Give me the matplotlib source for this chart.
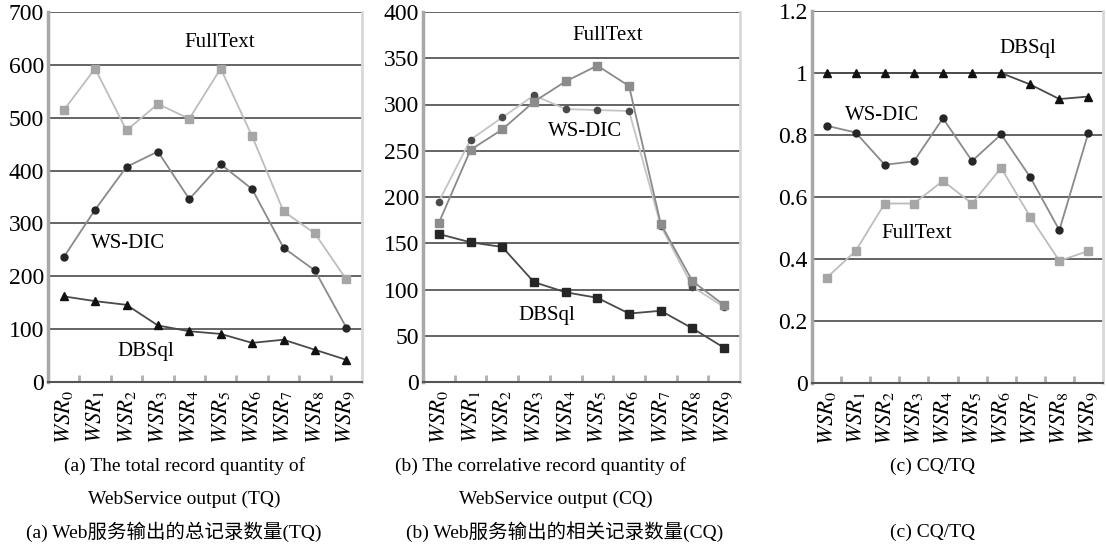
import matplotlib
matplotlib.use("Agg")
import matplotlib.pyplot as plt
import numpy as np

plt.rcParams['mathtext.fontset'] = 'stix'
plt.rcParams['font.family'] = ['Liberation Serif', 'Noto Sans CJK SC']

categories = [r'$WSR_{%d}$' % i for i in range(10)]

# Panel (a) TQ
tq_fulltext = [514, 593, 476, 526, 498, 593, 465, 323, 281, 194]
tq_wsdic = [236, 326, 407, 436, 346, 412, 365, 254, 211, 103]
tq_dbsql = [162, 153, 146, 107, 96, 91, 74, 80, 61, 42]

# Panel (b) CQ
cq_fulltext = [172, 251, 273, 303, 325, 342, 320, 171, 109, 83]
cq_wsdic = [195, 262, 286, 310, 295, 294, 293, 169, 103, 81]
cq_dbsql = [160, 151, 146, 108, 97, 91, 74, 77, 58, 37]

# Panel (c) CQ/TQ
r_dbsql = [1.0, 1.0, 1.0, 1.0, 1.0, 1.0, 1.0, 0.963, 0.916, 0.924]
r_wsdic = [0.83, 0.808, 0.704, 0.715, 0.854, 0.716, 0.802, 0.664, 0.493, 0.808]
r_fulltext = [0.339, 0.426, 0.579, 0.579, 0.652, 0.579, 0.694, 0.536, 0.394, 0.426]

captions = [
    ["(a) The total record quantity of", "WebService output (TQ)", "(a) Web服务输出的总记录数量(TQ)"],
    ["(b) The correlative record quantity of", "WebService output (CQ)", "(b) Web服务输出的相关记录数量(CQ)"],
    ["(c) CQ/TQ", "", "(c) CQ/TQ"],
]

fig = plt.figure(figsize=(11.06, 5.47), dpi=100)
W, H = 1106, 547

def make_ax(x0, x1, ytop, ybot):
    return fig.add_axes([x0 / W, 1 - ybot / H, (x1 - x0) / W, (ybot - ytop) / H])

ax1 = make_ax(48, 362, 12, 382)
ax2 = make_ax(423, 740, 12, 382)
ax3 = make_ax(812, 1103, 11, 383)

x = np.arange(10)

def style(ax, ymax, yticks, ylabels):
    ax.set_xlim(-0.5, 9.5)
    ax.set_ylim(0, ymax)
    ax.set_yticks(yticks)
    ax.set_yticklabels(ylabels)
    for yv in yticks[1:]:
        ax.axhline(yv, color='#3a3a3a', lw=1.1, zorder=1)
    ax.set_xticks(x)
    ax.set_xticklabels(categories, rotation=90, fontsize=16.5)
    ax.set_xticks(np.arange(0.5, 9.5, 1), minor=True)
    ax.tick_params(axis='x', which='major', length=0, pad=6)
    ax.tick_params(axis='x', which='minor', direction='in', length=5, width=2, color='#b0b0b0')
    ax.tick_params(axis='y', length=0, labelsize=17, pad=3)
    ax.spines['top'].set_visible(False)
    ax.spines['left'].set_color('#a8a8a8')
    ax.spines['left'].set_linewidth(2.5)
    ax.spines['right'].set_color('#d8d8d8')
    ax.spines['right'].set_linewidth(2)
    ax.spines['bottom'].set_color('#555555')
    ax.spines['bottom'].set_linewidth(1.5)

# Panel a
ax1.plot(x, tq_fulltext, color='#bdbdbd', lw=1.3, marker='s', ms=5.5, mfc='#a6a6a6', mec='#a6a6a6', zorder=3)
ax1.plot(x, tq_wsdic, color='#8a8a8a', lw=1.3, marker='o', ms=5, mfc='#262626', mec='#262626', zorder=3)
ax1.plot(x, tq_dbsql, color='#4a4a4a', lw=1.3, marker='^', ms=6, mfc='#111111', mec='#111111', zorder=3)
style(ax1, 700, [0, 100, 200, 300, 400, 500, 600, 700], ['0', '100', '200', '300', '400', '500', '600', '700'])
ax1.text(4.98, 642, 'FullText', ha='center', va='center', fontsize=15)
ax1.text(2.05, 262, 'WS-DIC', ha='center', va='center', fontsize=15)
ax1.text(2.6, 57, 'DBSql', ha='center', va='center', fontsize=15)

# Panel b
ax2.plot(x, cq_wsdic, color='#c4c4c4', lw=1.3, marker='o', ms=4.5, mfc='#4a4a4a', mec='#4a4a4a', zorder=3)
ax2.plot(x, cq_fulltext, color='#8a8a8a', lw=1.3, marker='s', ms=5.5, mfc='#8c8c8c', mec='#8c8c8c', zorder=3)
ax2.plot(x, cq_dbsql, color='#4a4a4a', lw=1.3, marker='s', ms=5.5, mfc='#262626', mec='#262626', zorder=3)
style(ax2, 400, [0, 50, 100, 150, 200, 250, 300, 350, 400], ['0', '50', '100', '150', '200', '250', '300', '350', '400'])
ax2.text(5.34, 375, 'FullText', ha='center', va='center', fontsize=15)
ax2.text(4.6, 271, 'WS-DIC', ha='center', va='center', fontsize=15)
ax2.text(3.4, 72, 'DBSql', ha='center', va='center', fontsize=15)

# Panel c
ax3.plot(x, r_fulltext, color='#bdbdbd', lw=1.3, marker='s', ms=5.5, mfc='#a6a6a6', mec='#a6a6a6', zorder=3)
ax3.plot(x, r_wsdic, color='#8a8a8a', lw=1.3, marker='o', ms=5, mfc='#262626', mec='#262626', zorder=3)
ax3.plot(x, r_dbsql, color='#4a4a4a', lw=1.3, marker='^', ms=6, mfc='#111111', mec='#111111', zorder=3)
style(ax3, 1.2, [0, 0.2, 0.4, 0.6, 0.8, 1.0, 1.2], ['0', '0.2', '0.4', '0.6', '0.8', '1', '1.2'])
ax3.text(6.9, 1.08, 'DBSql', ha='center', va='center', fontsize=15)
ax3.text(1.9, 0.864, 'WS-DIC', ha='center', va='center', fontsize=15)
ax3.text(3.1, 0.482, 'FullText', ha='center', va='center', fontsize=15)

# Captions
cap_x = [[185, 184, 174], [540, 556, 565], [932, 932, 932]]
cap_y = [466, 499, 532]
for i in range(3):
    for j in range(3):
        if captions[i][j]:
            fig.text(cap_x[i][j] / W, 1 - cap_y[j] / H, captions[i][j], ha='center', va='center', fontsize=14)

fig.savefig('out.png', dpi=100)
